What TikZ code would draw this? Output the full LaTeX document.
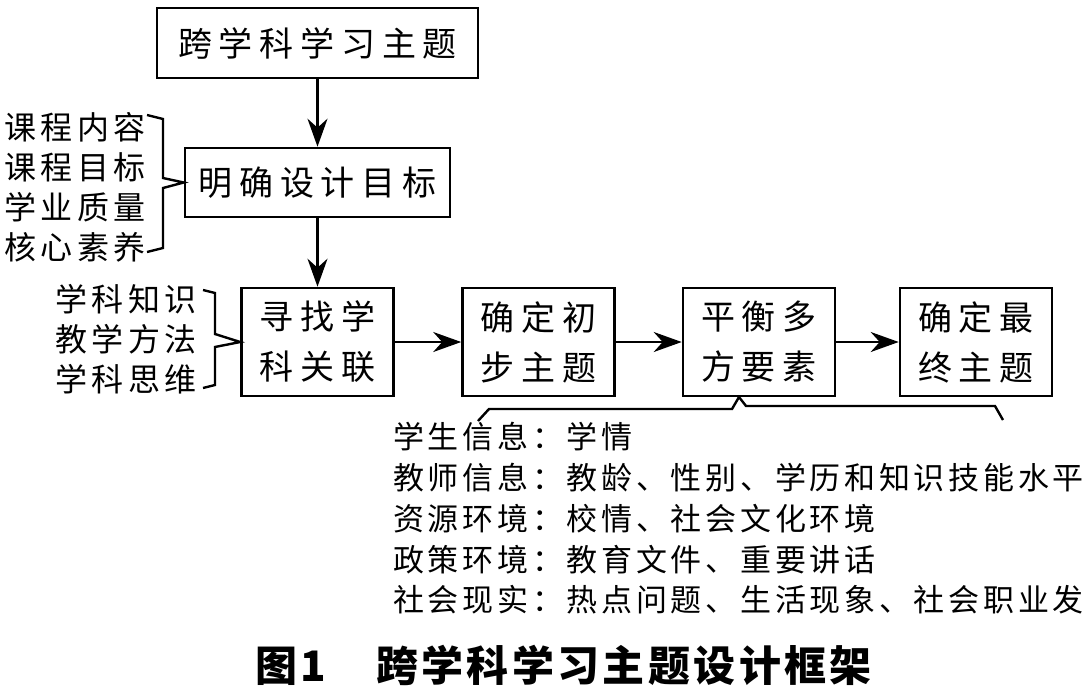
\documentclass[tikz,border=0pt]{standalone}
\usepackage{fontspec}
\usetikzlibrary{arrows.meta}
\newfontfamily\boxfont[LetterSpace=20]{Noto Sans CJK SC}
\newfontfamily\sidefont[LetterSpace=14]{Noto Sans CJK SC}
\newfontfamily\listfont[LetterSpace=12]{Noto Sans CJK SC}
\newfontfamily\capfont[LetterSpace=8]{Noto Sans CJK SC}
\begin{document}
\begin{tikzpicture}[x=1pt,y=-1pt,
  box/.style={draw,line width=2.6pt,inner sep=0pt,align=center,
    font={\fontsize{34pt}{50pt}\boxfont}},
  rowbox/.style={box,minimum width=152pt,minimum height=108pt},
  arr/.style={line width=2.4pt,-{Stealth[length=28pt,width=20pt,inset=9pt]}},
  brace/.style={line width=2.4pt,line join=miter},
  side/.style={inner sep=0pt,align=right,font={\fontsize{32pt}{40pt}\sidefont}}]
\useasboundingbox (0,0) rectangle (1091,697);
\fill[white] (0,0) rectangle (1091,697);
% boxes
\node[box,minimum width=321pt,minimum height=70pt] (t) at (317.5,43) {跨学科学习主题};
\node[box,minimum width=265pt,minimum height=69pt] (g) at (317.5,182.5) {明确设计目标};
\node[rowbox] (a) at (317.5,342) {寻找学\\科关联};
\node[rowbox] (b) at (538.5,342) {确定初\\步主题};
\node[rowbox] (c) at (759,342) {平衡多\\方要素};
\node[rowbox] (d) at (976,342) {确定最\\终主题};
% arrows
\draw[arr] (t) -- (g);
\draw[arr] (g) -- (a);
\draw[arr] (a) -- (b);
\draw[arr] (b) -- (c);
\draw[arr] (c) -- (d);
% side texts
\node[side,anchor=east] (l1) at (146,187.5) {课程内容\\课程目标\\学业质量\\核心素养};
\node[side,anchor=east] (l2) at (197,339) {学科知识\\教学方法\\学科思维};
% braces
\draw[brace] (147,115) -- (163,119) -- (163,178) -- (g.west) -- (163,188) -- (163,248) -- (147,252);
\draw[brace] (203,290) -- (215,293) -- (215,334) -- (a.west) -- (215,347) -- (215,385) -- (203,388);
\coordinate (btip) at (739,397);
\draw[brace] (478,421) -- (489,409) -- (732,409) -- (btip) -- (746,406) -- (995,406) -- (1003,420);
% bottom list
\node[inner sep=0pt,align=left,anchor=west,font={\fontsize{31pt}{40.75pt}\listfont}] (list) at (393,518.5)
 {学生信息：学情\\教师信息：教龄、性别、学历和知识技能水平\\资源环境：校情、社会文化环境\\政策环境：教育文件、重要讲话\\社会现实：热点问题、生活现象、社会职业发};
% caption
\node[inner sep=0pt,anchor=west,font={\fontsize{42pt}{50pt}\capfont\bfseries}] (cap) at (255,665) {图1\hspace{50pt}跨学科学习主题设计框架};
\end{tikzpicture}
\end{document}
